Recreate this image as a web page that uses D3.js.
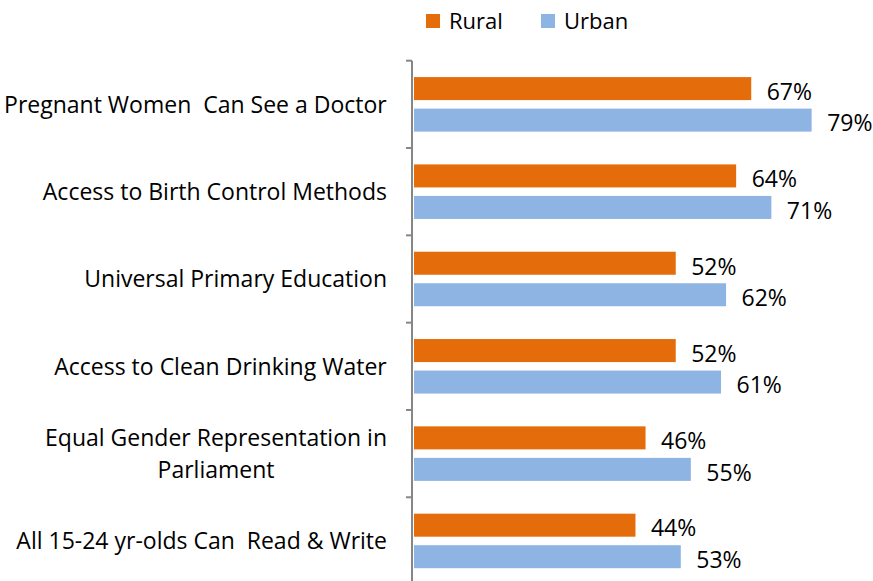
<!DOCTYPE html>
<html>
<head>
<meta charset="utf-8">
<script src="https://cdn.jsdelivr.net/npm/d3@7"></script>
<style>
  body { margin: 0; background: #fff; }
  text { font-family: "Open Sans", sans-serif; fill: #000; }
</style>
</head>
<body>
<svg id="chart"></svg>
<script>
// chart data
const categories = [
    ["Pregnant Women  Can See a Doctor"],
    ["Access to Birth Control Methods"],
    ["Universal Primary Education"],
    ["Access to Clean Drinking Water"],
    ["Equal Gender Representation in", "Parliament"],
    ["All 15-24 yr-olds Can  Read & Write"]
];
const series = ["Rural", "Urban"];
const rural = [67, 64, 52, 52, 46, 44];
const urban = [79, 71, 62, 61, 55, 53];
const colors = ["#E46C0A", "#8EB4E3"];

const width = 873, height = 581;
const svg = d3.select("#chart").attr("width", width).attr("height", height);

const rows = categories.map((c, i) => ({ id: i, label: c, values: [rural[i], urban[i]] }));

const x = d3.scaleLinear().domain([0, 90]).range([414, 867]);
const y = d3.scaleBand().domain(rows.map(d => d.id)).range([60.7, 584.6]);
const ySub = d3.scaleBand().domain(series).range([0, y.bandwidth()])
    .paddingInner(0.27).paddingOuter(0.52);

// axis line + ticks
const axisX = 412;
svg.append("line")
    .attr("x1", axisX).attr("x2", axisX)
    .attr("y1", y.range()[0]).attr("y2", height)
    .attr("stroke", "#868686").attr("stroke-width", 2);
svg.selectAll(".tick")
    .data(d3.range(rows.length + 1))
    .enter().append("line")
    .attr("x1", axisX - 6).attr("x2", axisX)
    .attr("y1", i => y.range()[0] + i * y.step())
    .attr("y2", i => y.range()[0] + i * y.step())
    .attr("stroke", "#868686").attr("stroke-width", 2);

const group = svg.selectAll(".grp")
    .data(rows)
    .enter().append("g")
    .attr("transform", d => `translate(0,${y(d.id)})`);

group.selectAll("rect")
    .data(d => d.values.map((v, k) => ({ s: series[k], v: v, k: k })))
    .enter().append("rect")
    .attr("x", x(0))
    .attr("y", d => ySub(d.s))
    .attr("width", d => x(d.v) - x(0))
    .attr("height", ySub.bandwidth())
    .attr("fill", d => colors[d.k]);

group.selectAll(".val")
    .data(d => d.values.map((v, k) => ({ s: series[k], v: v })))
    .enter().append("text")
    .attr("class", "val")
    .attr("x", d => x(d.v) + 15.5)
    .attr("y", d => ySub(d.s) + ySub.bandwidth() / 2 + 3)
    .attr("dy", "0.36em")
    .style("font-size", "23px")
    .text(d => d.v + "%");

// category labels (centered block, right aligned at 387)
group.each(function(d) {
    const g = d3.select(this);
    const lineH = 31.7;
    const n = d.label.length;
    const t = g.append("text")
        .style("font-size", "23px")
        .style("white-space", "pre")
        .attr("text-anchor", "middle");
    d.label.forEach((line, j) => {
        t.append("tspan")
            .attr("x", 0)
            .attr("y", y.bandwidth() / 2 + (j - (n - 1) / 2) * lineH)
            .attr("dy", "0.36em")
            .text(line);
    });
    const w = t.node().getBBox().width;
    t.selectAll("tspan").attr("x", 387 - w / 2);
});

// legend
const legend = svg.append("g").attr("transform", "translate(426,14)");
const legX = [0, 115];
series.forEach((s, i) => {
    legend.append("rect")
        .attr("x", legX[i]).attr("y", 0)
        .attr("width", 14).attr("height", 14)
        .attr("fill", colors[i]);
    legend.append("text")
        .attr("x", legX[i] + 23).attr("y", 7.5)
        .attr("dy", "0.36em")
        .style("font-size", "22px")
        .text(s);
});
</script>
</body>
</html>
